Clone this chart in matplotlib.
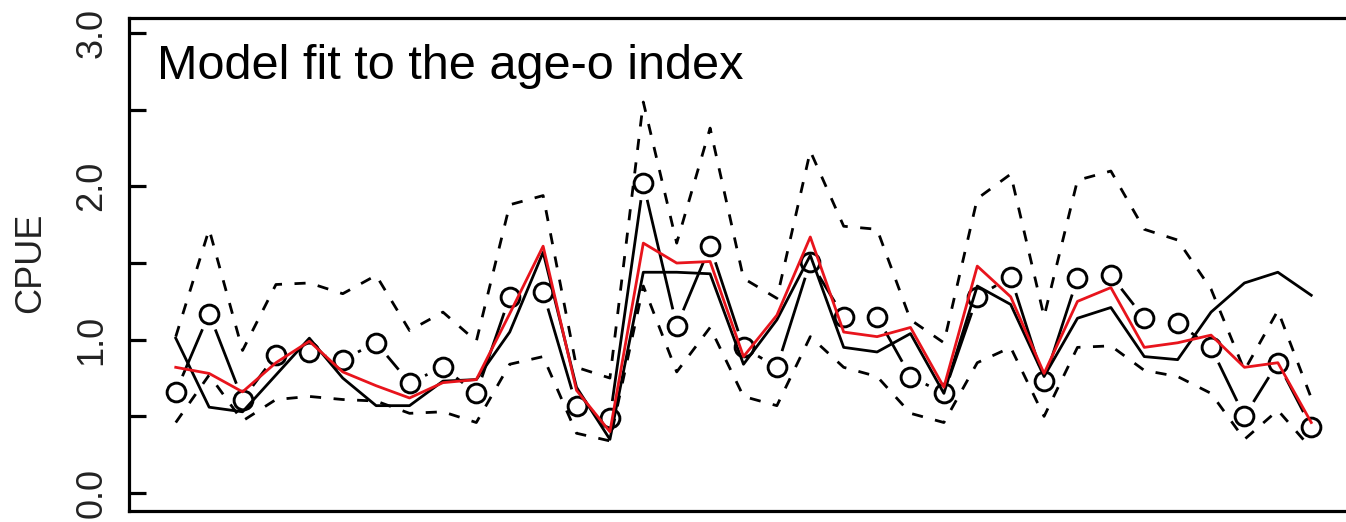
import numpy as np
import matplotlib.pyplot as plt

plt.rcParams['font.family'] = ['Liberation Sans', 'DejaVu Sans']

obs = [0.66, 1.17, 0.61, 0.90, 0.92, 0.87, 0.98, 0.72, 0.82, 0.65,
       1.28, 1.31, 0.57, 0.49, 2.02, 1.09, 1.61, 0.95, 0.82, 1.51,
       1.15, 1.15, 0.76, 0.65, 1.28, 1.41, 0.73, 1.40, 1.42, 1.14,
       1.11, 0.95, 0.50, 0.85, 0.43]
fit_red = [0.82, 0.78, 0.66, 0.85, 0.99, 0.79, 0.70, 0.62, 0.72, 0.74,
           1.17, 1.61, 0.67, 0.40, 1.63, 1.50, 1.51, 0.89, 1.16, 1.67,
           1.05, 1.02, 1.08, 0.69, 1.48, 1.28, 0.78, 1.25, 1.34, 0.95,
           0.98, 1.03, 0.82, 0.85, 0.46]
fit_black = [1.01, 0.56, 0.53, 0.77, 1.01, 0.75, 0.57, 0.57, 0.73, 0.74,
             1.05, 1.57, 0.69, 0.35, 1.44, 1.44, 1.43, 0.84, 1.13, 1.55,
             0.95, 0.92, 1.04, 0.65, 1.35, 1.23, 0.76, 1.14, 1.21, 0.89,
             0.87, 1.18, 1.37, 1.44, 1.29]
ci_upper = [1.02, 1.72, 0.93, 1.36, 1.37, 1.30, 1.42, 1.06, 1.18, 0.99,
            1.88, 1.94, 0.82, 0.75, 2.55, 1.63, 2.38, 1.40, 1.27, 2.23,
            1.74, 1.72, 1.13, 0.98, 1.92, 2.08, 1.15, 2.04, 2.10, 1.72,
            1.65, 1.33, 0.80, 1.19, 0.62]
ci_lower = [0.46, 0.77, 0.47, 0.61, 0.63, 0.61, 0.60, 0.52, 0.53, 0.46,
            0.84, 0.89, 0.39, 0.34, 1.35, 0.79, 1.08, 0.63, 0.57, 1.02,
            0.82, 0.76, 0.52, 0.46, 0.85, 0.95, 0.50, 0.95, 0.96, 0.80,
            0.76, 0.65, 0.35, 0.54, 0.29]
yticks = [0.0, 0.5, 1.0, 1.5, 2.0, 2.5, 3.0]
ytick_labels = ['0.0', '', '1.0', '', '2.0', '', '3.0']

yr = np.arange(1, len(obs) + 1)

fig = plt.figure(figsize=(13.46, 5.22), dpi=100)
# right edge of the box is cut off in the original, so the axes runs past the figure
ax = fig.add_axes([129/1346, 11/522, 1229/1346, 493/522])
ax.set_xlim(1 - 1.4, len(obs) + 1.4)
ax.set_ylim(-0.117, 3.098)

# R type="b": lines stop short of the points
def gapped(x, y, gap=17):
    pts = ax.transData.transform(np.column_stack([x, y]))
    inv = ax.transData.inverted()
    for p0, p1 in zip(pts[:-1], pts[1:]):
        d = p1 - p0
        L = np.hypot(d[0], d[1])
        if L <= 2 * gap:
            continue
        u = d / L
        a = inv.transform(p0 + u * gap)
        b = inv.transform(p1 - u * gap)
        ax.plot([a[0], b[0]], [a[1], b[1]], color='black', lw=2.0,
                solid_capstyle='butt')

gapped(yr, obs)
ax.plot(yr, obs, 'o', ms=13.5, mfc='none', mec='black', mew=2.1)

ax.plot(yr, ci_upper, color='black', lw=2.0, ls=(0, (4, 4.5)))
ax.plot(yr, ci_lower, color='black', lw=2.0, ls=(0, (4, 4.5)))
ax.plot(yr, fit_black, color='black', lw=2.0)
ax.plot(yr, fit_red, color='#e8141c', lw=2.0)

for s in ['left', 'top', 'bottom', 'right']:
    ax.spines[s].set_linewidth(2.3)

ax.set_xticks([])
ax.set_yticks(yticks)
ax.set_yticklabels(ytick_labels)
ax.tick_params(axis='y', direction='in', length=12.5, width=2.3, pad=14,
               labelsize=26, labelcolor='#222222', labelrotation=90)
for lab in ax.get_yticklabels():
    lab.set_va('center')

fig.text(31/1346, 1 - 263/522, 'CPUE', rotation=90, ha='center', va='center',
         fontsize=26, color='#222222')
fig.text(157/1346, 1 - 79/522, 'Model fit to the age-o index', ha='left',
         va='baseline', fontsize=35)

fig.savefig('out.png', dpi=100)
